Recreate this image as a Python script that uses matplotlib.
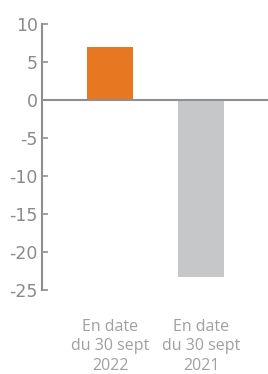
import matplotlib
matplotlib.use('Agg')
import matplotlib.pyplot as plt

# data
categories = ['En date\ndu 30 sept\n2022', 'En date\ndu 30 sept\n2021']
values = [7.0, -23.3]
colors = ['#E87722', '#C6C7C9']
yticks = [10, 5, 0, -5, -10, -15, -20, -25]

grey = '#8f8f8f'

fig = plt.figure(figsize=(2.68, 3.74), dpi=100)
ax = fig.add_axes([0.157, 0.2246, 0.843, 0.7112])

x = list(range(len(categories)))
ax.bar(x, values, width=0.505, color=colors, zorder=2)
ax.axhline(0, color=grey, lw=1.5, zorder=3)

ax.set_xlim(-0.747, 1.736)
ax.set_ylim(-25, 10)

for s in ['top', 'right', 'bottom']:
    ax.spines[s].set_visible(False)
ax.spines['left'].set_color(grey)
ax.spines['left'].set_linewidth(1.5)

ax.set_yticks(yticks)
ax.set_yticklabels([str(t) for t in yticks],
                   fontfamily=['Liberation Sans Narrow', 'DejaVu Sans'],
                   fontsize=12.5, color='#8a8a8a')
ax.tick_params(axis='y', direction='in', length=4, width=1.2, color=grey, pad=3)

ax.set_xticks(x)
ax.set_xticklabels(categories, fontfamily=['Open Sans', 'DejaVu Sans'],
                   fontsize=11.5, color='#a0a0a0', linespacing=1.27)
ax.tick_params(axis='x', length=0, pad=21)

fig.savefig('out.png', dpi=100)
